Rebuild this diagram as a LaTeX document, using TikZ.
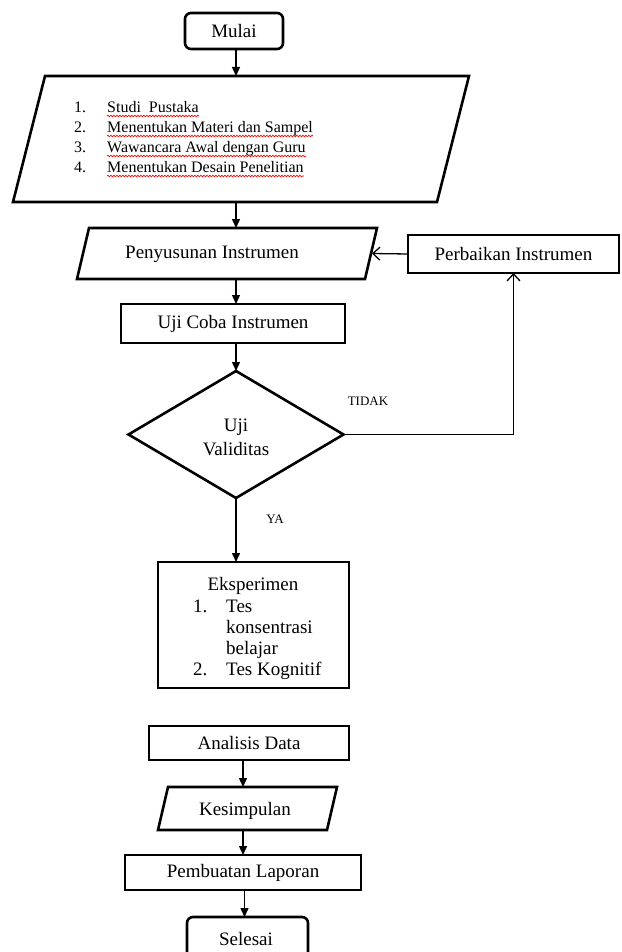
\documentclass[tikz,border=0pt]{standalone}
\usepackage{fontspec}
\setmainfont{Liberation Serif}
\usetikzlibrary{shapes.geometric,arrows.meta,decorations.pathmorphing}
\begin{document}
\begin{tikzpicture}[x=1pt,y=-1pt,
  box/.style={draw,line width=2.6pt,inner sep=0pt,outer sep=0pt,font=\fontsize{19}{23}\selectfont},
  hold/.style={draw=none,inner sep=0pt,outer sep=0pt},
  edge/.style={line width=2.6pt,line join=miter},
  txt/.style={inner sep=0pt,font=\fontsize{19}{23}\selectfont},
  lst/.style={inner sep=0pt,anchor=base west,font=\fontsize{16}{20}\selectfont},
  small/.style={inner sep=0pt,font=\fontsize{13}{15}\selectfont},
  arr/.style={line width=1.4pt,-{Triangle[length=9pt,width=8pt]}},
  oarr/.style={line width=1.3pt,-{Straight Barb[length=7pt,width=13pt,line width=1.3pt]}},
  squig/.style={red,line width=0.7pt,decorate,decoration={snake,amplitude=0.8pt,segment length=3pt}}]
\useasboundingbox (0,0) rectangle (621,952);
\clip (0,0) rectangle (621,952);
\coordinate (spine) at (236,0);
% nodes
\node[box,rounded corners=6pt,minimum width=98,minimum height=36] (start) at (234,31) {Mulai};
\node[hold,minimum width=456,minimum height=126] (big) at (241,139) {};
\draw[edge] (big.south west) -- ([xshift=32pt]big.north west) -- (big.north east) -- ([xshift=-32pt]big.south east) -- cycle;
\node[lst] (n1) at (74,113) {1.};
\node[lst] (n2) at (74,133) {2.};
\node[lst] (n3) at (74,153) {3.};
\node[lst] (n4) at (74,173) {4.};
\node[lst] (l1) at (107,113) {Studi\ \ Pustaka};
\node[lst] (l2) at (107,133) {Menentukan Materi dan Sampel};
\node[lst] (l3) at (107,153) {Wawancara Awal dengan Guru};
\node[lst] (l4) at (107,173) {Menentukan Desain Penelitian};
\foreach \l in {l1,l2,l3,l4}{\draw[squig] ([yshift=-3pt]\l.base west) -- ([yshift=-3pt]\l.base east);}
\node[hold,minimum width=300,minimum height=51] (penyu) at (227,253.5) {};
\draw[edge] (penyu.south west) -- ([xshift=12pt]penyu.north west) -- (penyu.north east) -- ([xshift=-12pt]penyu.south east) -- cycle;
\node[txt] (penyut) at (212,254) {Penyusunan Instrumen};
\node[box,minimum width=211,minimum height=38] (perb) at (513.5,254) {Perbaikan Instrumen};
\node[box,minimum width=224,minimum height=39] (uji) at (233,323.5) {Uji Coba Instrumen};
\node[box,diamond,minimum width=215,minimum height=127] (dia) at (236,434.5) {};
\node[txt,align=center,font=\fontsize{19}{24}\selectfont] (diat) at (236,437) {Uji\\Validitas};
\node[small] (tidak) at (368,401) {TIDAK};
\node[small] (ya) at (275,519) {YA};
\node[box,minimum width=191,minimum height=126] (eks) at (253.5,625) {};
\node[txt,anchor=base] (e0) at (253,590) {Eksperimen};
\node[txt,anchor=base west] (e1n) at (193,612) {1.};
\node[txt,anchor=base west] (e1a) at (226,612) {Tes};
\node[txt,anchor=base west] (e1b) at (226,633) {konsentrasi};
\node[txt,anchor=base west] (e1c) at (226,654) {belajar};
\node[txt,anchor=base west] (e2n) at (193,675) {2.};
\node[txt,anchor=base west] (e2a) at (226,675) {Tes Kognitif};
\node[box,minimum width=200,minimum height=34] (ana) at (249,743) {Analisis Data};
\node[hold,minimum width=179,minimum height=43] (kes) at (247.5,808.5) {};
\draw[edge] (kes.south west) -- ([xshift=10pt]kes.north west) -- (kes.north east) -- ([xshift=-10pt]kes.south east) -- cycle;
\node[txt] (kest) at (245,811) {Kesimpulan};
\node[box,minimum width=236,minimum height=35] (pem) at (243,872.5) {Pembuatan Laporan};
\node[box,rounded corners=6pt,minimum width=121,minimum height=46] (sel) at (247.5,940) {};
\node[txt] (selt) at (246,939) {Selesai};
% connectors
\draw[arr] (start.south -| spine) -- (big.north -| spine);
\draw[arr] (big.south -| spine) -- (penyu.north -| spine);
\draw[arr] (penyu.south -| spine) -- (uji.north -| spine);
\draw[arr] (uji.south -| spine) -- (dia.north);
\draw[oarr] (perb.west) -- ([xshift=-5pt]penyu.east);
\draw[oarr] (dia.east) -| (perb.south);
\draw[arr] (dia.south) -- (dia.south |- eks.north);
\draw[arr] ([xshift=-6pt]ana.south) -- ([xshift=-6pt]ana.south |- kes.north);
\draw[arr] ([xshift=-6pt]ana.south |- kes.south) -- ([xshift=-6pt]ana.south |- pem.north);
\draw[arr] ([xshift=-3pt]sel.north |- pem.south) -- ([xshift=-3pt]sel.north);
\end{tikzpicture}
\end{document}
